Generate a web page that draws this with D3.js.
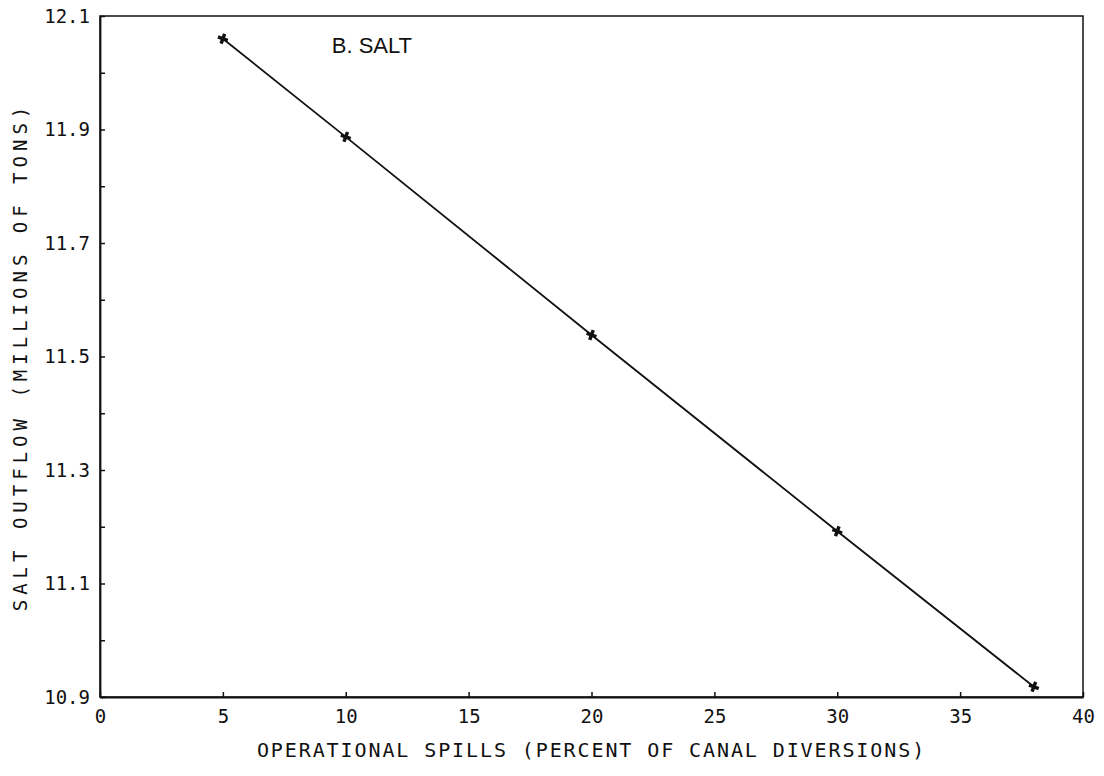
<!DOCTYPE html>
<html>
<head>
<meta charset="utf-8">
<script src="https://cdn.jsdelivr.net/npm/d3@7"></script>
<style>
  html, body { margin: 0; padding: 0; background: #fff; }
  svg { display: block; }
</style>
</head>
<body>
<svg id="chart" width="1104" height="776"></svg>
<script>
// ---- data ----
const spills = [5, 10, 20, 30, 38];
const saltOutflow = [12.06, 11.887, 11.538, 11.192, 10.918];
const xTicks = [0, 5, 10, 15, 20, 25, 30, 35, 40];
const yTicks = [10.9, 11.0, 11.1, 11.2, 11.3, 11.4, 11.5, 11.6, 11.7, 11.8, 11.9, 12.0, 12.1];
const yLabelTicks = [10.9, 11.1, 11.3, 11.5, 11.7, 11.9, 12.1];
const title = "B. SALT";
const xTitle = "OPERATIONAL SPILLS (PERCENT OF CANAL DIVERSIONS)";
const yTitle = "SALT OUTFLOW (MILLIONS OF TONS)";

const svg = d3.select("#chart");
const m = { left: 100, top: 16, right: 1083, bottom: 697 };
const x = d3.scaleLinear().domain([0, 40]).range([m.left, m.right]);
const y = d3.scaleLinear().domain([10.9, 12.1]).range([m.bottom, m.top]);

const mono = "'DejaVu Sans Mono', 'Liberation Mono', monospace";
const ink = "#111";

// frame
svg.append("rect")
  .attr("x", m.left).attr("y", m.top)
  .attr("width", m.right - m.left).attr("height", m.bottom - m.top)
  .attr("fill", "none").attr("stroke", ink).attr("stroke-width", 1.5);

// x axis
const xAxis = d3.axisBottom(x).tickValues(xTicks).tickSizeInner(-5).tickSizeOuter(0)
  .tickPadding(13).tickFormat(d3.format("d"));
const gx = svg.append("g").attr("transform", `translate(0,${m.bottom})`).call(xAxis);
gx.select(".domain").attr("stroke", ink).attr("stroke-width", 1.8);
gx.selectAll(".tick line").attr("stroke", ink).attr("stroke-width", 1.5);
gx.selectAll(".tick text").attr("font-family", mono).attr("font-size", 19).attr("fill", ink);

// y axis
const yAxis = d3.axisLeft(y).tickValues(yTicks).tickSizeInner(-5).tickSizeOuter(0)
  .tickPadding(10)
  .tickFormat(d => yLabelTicks.some(v => Math.abs(v - d) < 1e-9) ? d3.format(".1f")(d) : "");
const gy = svg.append("g").attr("transform", `translate(${m.left},0)`).call(yAxis);
gy.select(".domain").attr("stroke", ink).attr("stroke-width", 1.8);
gy.selectAll(".tick line").attr("stroke", ink).attr("stroke-width", 1.5);
gy.selectAll(".tick text").attr("font-family", mono).attr("font-size", 19).attr("fill", ink);

// line
const pts = spills.map((d, i) => [d, saltOutflow[i]]);
svg.append("path")
  .datum(pts)
  .attr("fill", "none").attr("stroke", ink).attr("stroke-width", 1.8)
  .attr("d", d3.line().x(d => x(d[0])).y(d => y(d[1])));

// markers (asterisk-like)
const star = d3.symbol().type(d3.symbolCross).size(60);
svg.selectAll(".mk").data(pts).enter().append("path")
  .attr("class", "mk")
  .attr("transform", d => `translate(${x(d[0])},${y(d[1])}) rotate(20)`)
  .attr("d", star).attr("fill", ink);

// panel title
svg.append("text")
  .attr("x", x(9.43)).attr("y", 53)
  .attr("font-family", "'Liberation Sans', Arial, sans-serif")
  .attr("font-size", 22).attr("fill", ink)
  .text(title);

// axis titles
svg.append("text")
  .attr("x", (m.left + m.right) / 2).attr("y", 757)
  .attr("text-anchor", "middle")
  .attr("font-family", mono).attr("font-size", 20)
  .attr("letter-spacing", 1.9)
  .attr("fill", ink)
  .text(xTitle);

svg.append("text")
  .attr("transform", `translate(27,${(m.top + m.bottom) / 2}) rotate(-90)`)
  .attr("text-anchor", "middle")
  .attr("font-family", mono).attr("font-size", 19)
  .attr("letter-spacing", 5)
  .attr("fill", ink)
  .text(yTitle);
</script>
</body>
</html>
